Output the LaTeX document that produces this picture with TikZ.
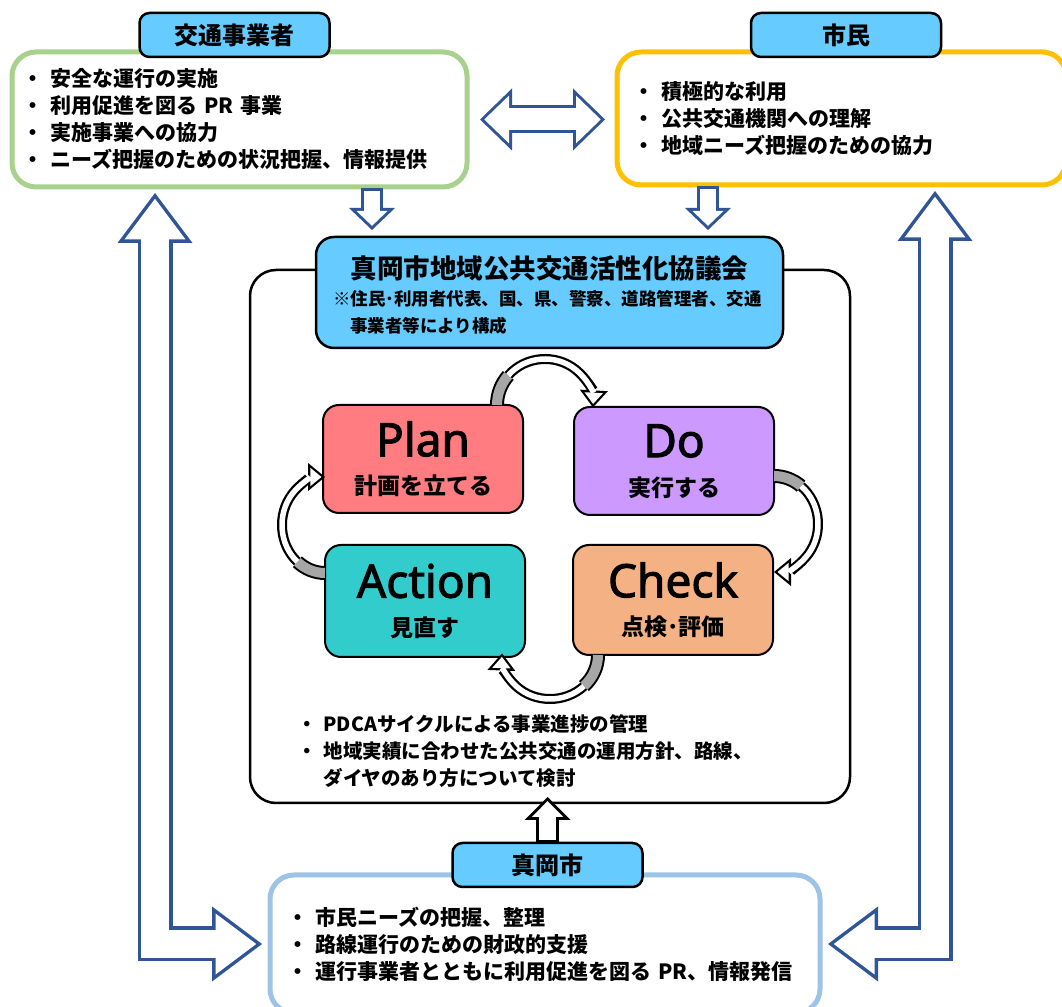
\documentclass[tikz,border=0pt]{standalone}
\usepackage{fontspec}
\setmainfont{Noto Sans CJK JP}
\newfontfamily\latinfont{Noto Sans}[FakeBold=2.2]
\usepackage{tikz}
\usetikzlibrary{arrows.meta,positioning,calc}

\definecolor{tagblue}{HTML}{66CCFF}
\definecolor{opgreen}{HTML}{A9D18E}
\definecolor{ctyellow}{HTML}{FFC000}
\definecolor{citysky}{HTML}{9DC3E6}
\definecolor{navy}{HTML}{2F5597}
\definecolor{planred}{HTML}{FF7C80}
\definecolor{dopurple}{HTML}{CC99FF}
\definecolor{actteal}{HTML}{33CCCC}
\definecolor{chkorange}{HTML}{F4B183}
\definecolor{stubgray}{HTML}{A6A6A6}

\newcommand{\bul}{\makebox[1.35em][l]{・}}

% one turn of the PDCA wheel: grey back part, then white face with its head
\newcommand{\cyclearrow}[6]{%
  \path (#1) arc[start angle=#4, end angle=#5, x radius=#2, y radius=#3] coordinate (turn);
  \draw[wheel rim, -{Triangle[length=17pt,width=28pt,line width=0pt]}]
    (turn) arc[start angle=#5, end angle=#6, x radius=#2, y radius=#3];
  \draw[wheel rim, line width=14pt]
    (#1) arc[start angle=#4, end angle=#5, x radius=#2, y radius=#3];
  \draw[wheel back]
    (#1) arc[start angle=#4, end angle=#5, x radius=#2, y radius=#3];
  \draw[wheel face, -{Triangle[length=11.2pt,width=18.4pt,line width=0pt]}, shorten >=3.5pt]
    (turn) arc[start angle=#5, end angle=#6, x radius=#2, y radius=#3];
}

\begin{document}
\begin{tikzpicture}[
    x=1pt, y=1pt,
    tag/.style={draw, line width=2.5pt, fill=tagblue, rounded corners=10pt, minimum width=190pt, minimum height=44pt, inner sep=0pt, outer sep=0pt, font=\fontsize{24}{24}\selectfont\bfseries},
    rolebox/.style={draw=#1, line width=5pt, fill=white, rounded corners=24pt, outer sep=0pt, align=left, font=\fontsize{21}{27}\selectfont\bfseries},
    council/.style={draw, line width=2.5pt, fill=white, rounded corners=26pt, outer sep=0pt},
    banner/.style={draw, line width=2.5pt, fill=tagblue, rounded corners=18pt, outer sep=0pt},
    member/.style={anchor=west, inner sep=0pt, font=\fontsize{17.5}{17.5}\selectfont\bfseries},
    stage/.style={draw, line width=2pt, rounded corners=16pt, minimum width=200pt, outer sep=0pt},
    stageword/.style={inner sep=0pt, font=\latinfont\fontsize{46}{46}\selectfont},
    stagenote/.style={inner sep=0pt, font=\fontsize{23}{23}\selectfont\bfseries},
    wheel rim/.style={draw=black, line width=10pt},
    wheel back/.style={draw=stubgray, line width=10pt},
    wheel face/.style={draw=white, line width=5.5pt},
    % hollow block arrows: coloured body, white core, white filler over the joints
    fatline/.style={draw=navy, line width=35pt, {Triangle[length=50pt,width=75pt,line width=0pt]}-{Triangle[length=50pt,width=75pt,line width=0pt]}},
    fatcore/.style={draw=white, line width=28pt, {Triangle[length=40.7pt,width=61pt,line width=0pt]}-{Triangle[length=40.7pt,width=61pt,line width=0pt]}, shorten <=5.8pt, shorten >=5.8pt},
    fatfill/.style={draw=white, line width=28pt, shorten <=27pt, shorten >=27pt},
    wideline/.style={draw=navy, line width=28pt, {Triangle[length=32pt,width=62pt,line width=0pt]}-{Triangle[length=32pt,width=62pt,line width=0pt]}},
    widecore/.style={draw=white, line width=22pt, {Triangle[length=24.7pt,width=47.8pt,line width=0pt]}-{Triangle[length=24.7pt,width=47.8pt,line width=0pt]}, shorten <=4.3pt, shorten >=4.3pt},
    widefill/.style={draw=white, line width=22pt, shorten <=18pt, shorten >=18pt},
    dropline/.style={draw=navy, line width=22pt, -{Triangle[length=22pt,width=46pt,line width=0pt]}, shorten >=7pt},
    dropcore/.style={draw=white, line width=16pt, -{Triangle[length=14.85pt,width=31pt,line width=0pt]}, shorten <=3pt, shorten >=11.15pt},
    dropfill/.style={draw=white, line width=16pt, shorten <=3pt, shorten >=20pt},
    riseline/.style={draw=black, line width=23pt, -{Triangle[length=23pt,width=46pt,line width=0pt]}, shorten >=-6pt},
    risecore/.style={draw=white, line width=17pt, -{Triangle[length=15.76pt,width=31.5pt,line width=0pt]}, shorten <=3pt, shorten >=-1.76pt},
    risefill/.style={draw=white, line width=17pt, shorten <=3pt, shorten >=8pt}
  ]
    \useasboundingbox (0,0) rectangle (1062,1006);

    % council frame with its banner
    \node[council, minimum width=600pt, minimum height=533pt] (council) at (550,469.5) {};
    \node[banner, minimum width=467pt, minimum height=111pt] (councilTtl) at (549.5,713.5) {};
    \node[inner sep=0pt, font=\fontsize{26.5}{26.5}\selectfont\bfseries] (councilName) at (549.5,738) {真岡市地域公共交通活性化協議会};
    \node[member] (councilMembers) at (333,707) {※住民･利用者代表、国、県、警察、道路管理者、交通};
    \node[member] (councilMembersB) at (350,680) {事業者等により構成};

    % PDCA stages
    \node[stage, fill=planred, minimum height=108pt] (plan) at (423,547) {};
    \node[stage, fill=dopurple, minimum height=108pt] (do) at (674,545) {};
    \node[stage, fill=actteal, minimum height=112pt] (action) at (425,405) {};
    \node[stage, fill=chkorange, minimum height=110pt] (check) at (673,406) {};

    \node[stageword] (planWord) at ([yshift=20pt]plan.center) {Plan};
    \node[stagenote] (planNote) at ([yshift=-27pt]plan.center) {計画を立てる};
    \node[stageword] (doWord) at ([yshift=20pt]do.center) {Do};
    \node[stagenote] (doNote) at ([yshift=-27pt]do.center) {実行する};
    \node[stageword] (actWord) at ([yshift=20pt]action.center) {Action};
    \node[stagenote] (actNote) at ([yshift=-27pt]action.center) {見直す};
    \node[stageword] (chkWord) at ([yshift=20pt]check.center) {Check};
    \node[stagenote] (chkNote) at ([yshift=-27pt]check.center) {点検･評価};

    % wheel arrows
    \coordinate (planOut) at ([xshift=-26pt]plan.north east);
    \coordinate (doOut) at ([yshift=-15pt]do.east);
    \coordinate (checkOut) at ([xshift=25pt]check.south west);
    \coordinate (actOut) at ([yshift=28pt]action.west);
    \cyclearrow{planOut}{48}{46}{180}{140}{-3}
    \cyclearrow{doOut}{44}{48}{90}{52}{-90}
    \cyclearrow{checkOut}{48}{44}{0}{-45}{-182}
    \cyclearrow{actOut}{43}{48}{-90}{-130}{-270}

    \node[anchor=west, align=left, inner sep=0pt, font=\fontsize{19.5}{27}\selectfont\bfseries] (councilTasks) at (297,255)
      {\bul PDCAサイクルによる事業進捗の管理\\
       \bul 地域実績に合わせた公共交通の運用方針、路線、\\
       \hspace*{1.35em}ダイヤのあり方について検討};

    % the three parties
    \node[rolebox=opgreen, minimum width=455pt, minimum height=135pt, inner xsep=10pt, text width=435pt] (opBox) at (239.5,886.5)
      {\bul 安全な運行の実施\\
       \bul 利用促進を図る PR 事業\\
       \bul 実施事業への協力\\
       \bul ニーズ把握のための状況把握、情報提供};
    \node[rolebox=ctyellow, minimum width=449pt, minimum height=133pt, inner xsep=16pt, text width=417pt] (ctBox) at (841.5,887.5)
      {\bul 積極的な利用\\
       \bul 公共交通機関への理解\\
       \bul 地域ニーズ把握のための協力};
    \node[rolebox=citysky, minimum width=550pt, minimum height=138pt, inner xsep=17pt, text width=516pt] (cityBox) at (545,62)
      {\bul 市民ニーズの把握、整理\\
       \bul 路線運行のための財政的支援\\
       \bul 運行事業者とともに利用促進を図る PR、情報発信};

    \node[tag] (opTag) at ([xshift=-5pt,yshift=17pt]opBox.north) {交通事業者};
    \node[tag] (ctTag) at ([xshift=4.5pt,yshift=17pt]ctBox.north) {市民};
    \node[tag] (cityTag) at ([xshift=2.5pt,yshift=10pt]cityBox.north) {真岡市};

    % links between the parties
    \coordinate (opRise) at ([xshift=-84.5pt,yshift=-6pt]opBox.south);
    \coordinate (cityIn) at ([xshift=-8pt]cityBox.west);
    \coordinate (ctRise) at ([xshift=93.5pt,yshift=-6pt]ctBox.south);
    \coordinate (cityInR) at ([xshift=8pt]cityBox.east);
    \coordinate (opSide) at ([xshift=13pt]opBox.east);
    \coordinate (ctSide) at (opBox.east -| ctBox.west);
    \coordinate (opDrop) at ([xshift=132.5pt,yshift=-1.5pt]opBox.south);
    \coordinate (ctDrop) at ([xshift=-133.5pt,yshift=-1.5pt]ctBox.south);

    \draw[fatline] (opRise) |- (cityIn);
    \draw[fatcore] (opRise) |- (cityIn);
    \draw[fatfill] (opRise) |- (cityIn);
    \draw[fatline] (ctRise) |- (cityInR);
    \draw[fatcore] (ctRise) |- (cityInR);
    \draw[fatfill] (ctRise) |- (cityInR);

    \draw[wideline] (opSide) -- ([xshift=-12pt]ctSide);
    \draw[widecore] (opSide) -- ([xshift=-12pt]ctSide);
    \draw[widefill] (opSide) -- ([xshift=-12pt]ctSide);

    \draw[dropline] (opDrop) -- (opDrop |- councilTtl.north);
    \draw[dropcore] (opDrop) -- (opDrop |- councilTtl.north);
    \draw[dropfill] (opDrop) -- (opDrop |- councilTtl.north);
    \draw[dropline] (ctDrop) -- (ctDrop |- councilTtl.north);
    \draw[dropcore] (ctDrop) -- (ctDrop |- councilTtl.north);
    \draw[dropfill] (ctDrop) -- (ctDrop |- councilTtl.north);

    \draw[riseline] (cityTag.north) -- (cityTag.north |- council.south);
    \draw[risecore] (cityTag.north) -- (cityTag.north |- council.south);
    \draw[risefill] (cityTag.north) -- (cityTag.north |- council.south);
\end{tikzpicture}
\end{document}
